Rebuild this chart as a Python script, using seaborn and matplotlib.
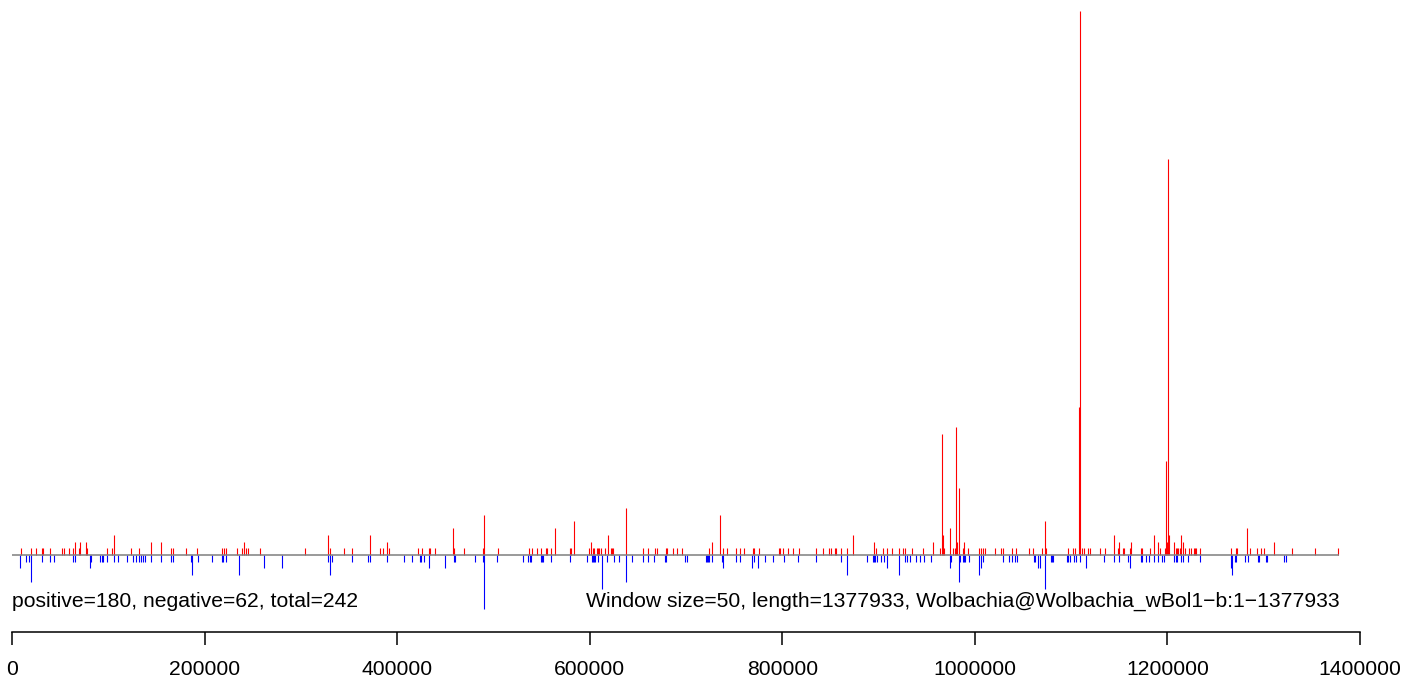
import matplotlib

matplotlib.use("Agg")

import matplotlib.pyplot as plt
import numpy as np
import seaborn as sns

# ==========================================
# Data (positions in kb, counts per 50 bp window)
# ==========================================

GENOME_LENGTH = 1377933
WINDOW_SIZE = 50
CONTIG = "Wolbachia@Wolbachia_wBol1\u2212b:1\u22121377933"

positive_kb = [
    9.0, 20.0, 25.2, 31.2, 32.2, 39.8, 52.4, 53.5, 59.5, 63.7,
    65.7, 69.9, 70.9, 77.2, 78.2, 99.0, 104.2, 106.2, 123.9, 132.2,
    144.7, 155.1, 165.4, 167.5, 181.0, 192.4, 218.4, 220.5, 222.6, 234.0,
    239.2, 241.3, 243.3, 245.4, 257.9, 304.6, 328.5, 330.6, 345.1, 352.8,
    372.1, 382.5, 385.6, 389.8, 391.8, 422.0, 426.1, 433.4, 434.4, 439.6,
    458.3, 459.4, 469.7, 489.5, 490.5, 505.1, 537.3, 540.4, 545.6, 549.7,
    554.9, 555.9, 560.1, 564.3, 579.8, 580.9, 584.0, 599.6, 601.6, 603.7,
    604.8, 607.9, 608.9, 610.0, 612.0, 616.2, 619.3, 622.4, 623.5, 624.5,
    638.0, 655.7, 660.8, 668.1, 670.2, 679.5, 680.6, 686.8, 691.0, 696.2,
    724.2, 727.3, 735.6, 738.7, 742.9, 752.2, 756.4, 760.5, 769.9, 770.9,
    776.1, 796.9, 797.9, 801.0, 806.2, 811.4, 817.7, 835.3, 842.6, 848.8,
    850.9, 855.1, 856.1, 861.3, 867.5, 873.7, 895.5, 897.6, 904.9, 909.1,
    914.2, 921.5, 925.7, 927.8, 935.0, 946.5, 956.8, 964.1, 966.2, 967.2,
    968.3, 974.5, 977.6, 979.7, 980.7, 981.8, 983.8, 988.0, 989.0, 993.2,
    1004.6, 1006.7, 1008.8, 1010.8, 1021.2, 1027.4, 1029.5, 1038.9, 1043.0, 1056.5,
    1060.7, 1069.7, 1073.2, 1074.2, 1097.0, 1102.2, 1104.3, 1108.5, 1109.5, 1111.6,
    1113.6, 1117.8, 1119.9, 1130.3, 1135.5, 1144.8, 1149.0, 1150.0, 1154.2, 1155.2,
    1161.4, 1162.5, 1172.9, 1173.9, 1182.2, 1186.4, 1190.5, 1192.6, 1197.8, 1198.8,
    1199.9, 1200.9, 1201.9, 1207.1, 1209.2, 1210.2, 1211.3, 1213.4, 1214.4, 1216.5,
    1218.5, 1222.7, 1224.8, 1227.9, 1228.9, 1230.0, 1234.2, 1266.3, 1271.5, 1272.5,
    1282.9, 1286.1, 1293.3, 1297.5, 1300.6, 1311.0, 1329.7, 1353.6, 1377.5,
]

positive_count = [
    1, 1, 1, 1, 1, 1, 1, 1, 1, 1,
    2, 1, 2, 2, 1, 1, 1, 3, 1, 1,
    2, 2, 1, 1, 1, 1, 1, 1, 1, 1,
    1, 2, 1, 1, 1, 1, 3, 1, 1, 1,
    3, 1, 1, 2, 1, 1, 1, 1, 1, 1,
    4, 1, 1, 1, 6, 1, 1, 1, 1, 1,
    1, 1, 1, 4, 1, 1, 5, 1, 2, 1,
    1, 1, 1, 1, 1, 1, 3, 1, 1, 1,
    7, 1, 1, 1, 1, 1, 1, 1, 1, 1,
    1, 2, 6, 1, 1, 1, 1, 1, 1, 1,
    1, 1, 1, 1, 1, 1, 1, 1, 1, 1,
    1, 1, 1, 1, 1, 3, 2, 1, 1, 1,
    1, 1, 1, 1, 1, 1, 2, 1, 18, 3,
    1, 4, 1, 1, 19, 2, 10, 1, 2, 1,
    1, 1, 1, 1, 1, 1, 1, 1, 1, 1,
    1, 1, 5, 1, 1, 1, 1, 22, 81, 1,
    1, 1, 1, 1, 1, 3, 1, 2, 1, 1,
    1, 2, 1, 1, 1, 3, 2, 1, 1, 14,
    2, 59, 3, 2, 1, 1, 1, 1, 3, 2,
    1, 1, 1, 1, 1, 1, 1, 1, 1, 1,
    4, 1, 1, 1, 1, 2, 1, 1, 1,
]

negative_kb = [
    8.6, 14.9, 18.0, 20.0, 31.5, 39.8, 43.9, 63.7, 65.7, 81.3,
    82.4, 91.7, 93.5, 94.5, 99.0, 106.2, 110.4, 119.7, 126.0, 129.1,
    132.2, 134.3, 136.4, 138.5, 144.7, 155.1, 165.4, 167.5, 186.2, 187.3,
    193.5, 208.0, 218.4, 219.4, 222.6, 236.1, 262.0, 280.7, 328.5, 330.6,
    332.7, 352.8, 370.0, 372.1, 389.8, 407.4, 415.7, 424.1, 425.1, 428.2,
    433.4, 450.0, 459.4, 460.4, 481.2, 489.5, 490.5, 504.0, 531.0, 536.2,
    538.3, 539.3, 549.7, 550.8, 551.8, 560.1, 579.8, 597.5, 602.7, 603.7,
    604.8, 605.8, 608.9, 613.1, 618.3, 625.5, 630.7, 638.0, 644.2, 655.7,
    660.8, 667.1, 678.5, 679.5, 699.3, 701.3, 721.1, 722.1, 723.1, 724.2,
    727.3, 737.7, 738.7, 752.2, 756.4, 768.9, 770.9, 775.1, 782.4, 790.7,
    802.1, 816.6, 835.3, 861.3, 867.5, 888.3, 894.5, 895.5, 896.6, 898.7,
    902.8, 906.0, 909.1, 921.5, 927.8, 929.9, 932.9, 939.2, 943.3, 947.5,
    954.8, 974.5, 975.5, 983.8, 984.9, 988.0, 989.0, 990.1, 994.2, 1004.6,
    1006.7, 1008.8, 1029.5, 1035.8, 1038.9, 1042.0, 1044.1, 1061.7, 1062.8, 1065.9,
    1068.0, 1073.2, 1079.4, 1080.4, 1081.5, 1096.0, 1097.0, 1099.1, 1103.3, 1105.3,
    1109.5, 1115.7, 1134.5, 1144.8, 1150.0, 1159.3, 1161.4, 1172.9, 1173.9, 1178.1,
    1181.2, 1186.4, 1190.5, 1194.7, 1196.7, 1207.1, 1209.2, 1210.2, 1214.4, 1216.5,
    1221.7, 1234.2, 1266.3, 1267.3, 1270.5, 1271.5, 1280.9, 1284.0, 1294.4, 1295.4,
    1302.7, 1303.7, 1321.4, 1323.5,
]

negative_count = [
    2, 1, 1, 4, 1, 1, 1, 1, 1, 2,
    1, 1, 1, 1, 1, 1, 1, 1, 1, 1,
    1, 1, 1, 1, 1, 1, 1, 1, 1, 3,
    1, 1, 1, 1, 1, 3, 2, 2, 1, 3,
    1, 1, 1, 1, 1, 1, 1, 1, 1, 1,
    2, 2, 1, 1, 1, 1, 8, 1, 1, 1,
    1, 1, 1, 1, 1, 1, 1, 1, 1, 1,
    1, 1, 1, 5, 1, 1, 1, 4, 1, 1,
    1, 1, 1, 1, 1, 1, 1, 1, 1, 1,
    1, 1, 2, 1, 1, 2, 1, 2, 1, 1,
    1, 1, 1, 1, 3, 1, 1, 1, 1, 1,
    1, 1, 2, 3, 1, 1, 1, 1, 1, 1,
    1, 2, 1, 4, 1, 1, 1, 1, 1, 3,
    2, 1, 1, 1, 1, 1, 1, 1, 1, 2,
    2, 5, 1, 1, 1, 1, 1, 1, 1, 1,
    1, 2, 1, 1, 1, 1, 2, 1, 1, 1,
    1, 1, 1, 1, 1, 1, 1, 1, 1, 1,
    1, 1, 2, 3, 1, 1, 1, 1, 1, 1,
    1, 1, 1, 1,
]

n_positive = 180
n_negative = 62

x_ticks = [0, 200000, 400000, 600000, 800000, 1000000, 1200000, 1400000]

assert len(positive_kb) == len(positive_count)
assert len(negative_kb) == len(negative_count)


def main():

    # ==========================================
    # Style
    # ==========================================

    sns.set_theme(style="white")
    plt.rcParams["font.family"] = ["Liberation Sans", "DejaVu Sans"]

    W, H = 1417, 683
    fig = plt.figure(figsize=(W / 100, H / 100), dpi=100)

    # ==========================================
    # Spike panel
    # ==========================================

    left = 12 / W
    width = 1348 / W
    ax = fig.add_axes([left, (H - 620) / H, width, 620 / H])

    pos_x = np.array(positive_kb) * 1000
    neg_x = np.array(negative_kb) * 1000

    ax.vlines(pos_x, 0, positive_count, color="#FF0000", linewidth=0.8)
    ax.vlines(neg_x, 0, -np.array(negative_count), color="#0000FF", linewidth=0.8)
    ax.hlines(0, 0, GENOME_LENGTH, color="#7f7f7f", linewidth=1.1, zorder=3)

    ax.set_xlim(0, 1400000)
    ax.set_ylim(-65 / 6.72, 555 / 6.72)
    ax.axis("off")

    # ==========================================
    # Annotations
    # ==========================================

    fig.text(
        left,
        (H - 607) / H,
        f"positive={n_positive}, negative={n_negative}, "
        f"total={n_positive + n_negative}",
        fontsize=15.2,
        ha="left",
        va="baseline",
        color="black",
    )

    fig.text(
        1340 / W,
        (H - 607) / H,
        f"Window size={WINDOW_SIZE}, length={GENOME_LENGTH}, {CONTIG}",
        fontsize=15.2,
        ha="right",
        va="baseline",
        color="black",
    )

    # ==========================================
    # Position axis
    # ==========================================

    ax2 = fig.add_axes([left, (H - 632) / H, width, 0.0001])
    ax2.set_xlim(0, 1400000)
    ax2.set_ylim(0, 1)
    for side in ["top", "left", "right"]:
        ax2.spines[side].set_visible(False)
    ax2.spines["bottom"].set_color("black")
    ax2.spines["bottom"].set_linewidth(1.1)
    ax2.set_yticks([])
    ax2.set_xticks(x_ticks)
    ax2.set_xticklabels([str(t) for t in x_ticks])
    ax2.tick_params(
        axis="x",
        direction="out",
        length=9.5,
        width=1.1,
        color="black",
        labelcolor="black",
        pad=10.5,
        labelsize=15.2,
        bottom=True,
    )
    ax2.patch.set_visible(False)

    fig.savefig("out.png", dpi=100)
    plt.close(fig)


if __name__ == "__main__":
    main()
